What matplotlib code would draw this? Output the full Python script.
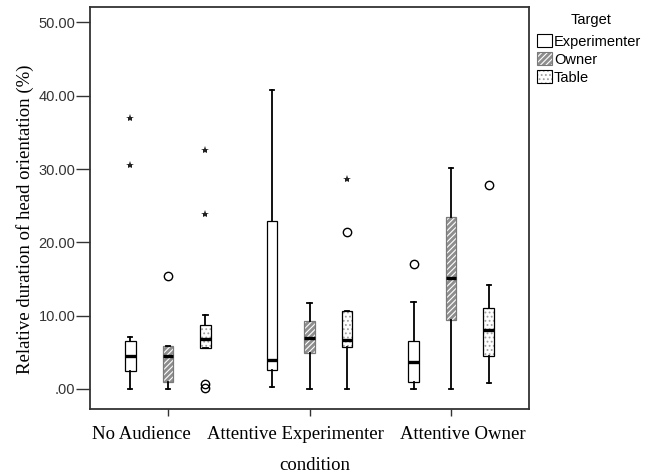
import matplotlib.pyplot as plt
from matplotlib.patches import Patch
from matplotlib.legend_handler import HandlerTuple

plt.rcParams['hatch.linewidth'] = 0.8

conditions = ["No Audience", "Attentive Experimenter", "Attentive Owner"]
targets = ["Experimenter", "Owner", "Table"]

# box statistics per target, one value per condition
exp_med = [4.5, 3.96, 3.72]
exp_q1 = [2.46, 2.59, 0.95]
exp_q3 = [6.59, 22.96, 6.5]
exp_lo = [0.0, 0.3, 0.0]
exp_hi = [7.09, 40.8, 11.8]
exp_out = [[], [], [17.0]]
exp_ext = [[36.9, 30.6], [], []]

own_med = [4.5, 6.92, 15.2]
own_q1 = [1.0, 4.95, 9.4]
own_q3 = [5.87, 9.28, 23.5]
own_lo = [0.0, 0.0, 0.0]
own_hi = [5.87, 11.7, 30.2]
own_out = [[15.4], [], []]
own_ext = [[], [], []]

tab_med = [6.78, 6.68, 8.05]
tab_q1 = [5.63, 5.69, 4.5]
tab_q3 = [8.73, 10.68, 11.0]
tab_lo = [5.55, 0.0, 0.78]
tab_hi = [10.1, 10.68, 14.2]
tab_out = [[0.68, 0.1], [21.4], [27.8]]
tab_ext = [[32.6, 23.9], [28.6], []]

series = [
    (exp_med, exp_q1, exp_q3, exp_lo, exp_hi, exp_out, exp_ext),
    (own_med, own_q1, own_q3, own_lo, own_hi, own_out, own_ext),
    (tab_med, tab_q1, tab_q3, tab_lo, tab_hi, tab_out, tab_ext),
]
face_colors = ['white', '#8e8e8e', 'white']
hatches = [None, '//////', '....']
hatch_colors = [None, 'white', '#a0a0a0']
box_edges = ['black', '#7a7a7a', 'black']
offsets = [-0.265, 0.0, 0.265]
width = 0.073

fig = plt.figure(figsize=(6.57, 4.75), dpi=100)
ax = fig.add_axes([90 / 657, 1 - 409 / 475, 439 / 657, 402 / 475])

for k, (med, q1, q3, lo, hi, out, ext) in enumerate(series):
    pos = [i + offsets[k] for i in range(len(conditions))]
    stats = []
    for i in range(len(conditions)):
        stats.append(dict(med=med[i], q1=q1[i], q3=q3[i],
                          whislo=lo[i], whishi=hi[i], fliers=out[i]))
    if hatches[k]:
        heights = [b - a for a, b in zip(q1, q3)]
        ax.bar(pos, heights, bottom=q1, width=width, facecolor=face_colors[k],
               edgecolor=hatch_colors[k], hatch=hatches[k], linewidth=0,
               zorder=1)
    ax.bxp(stats, positions=pos, widths=width, capwidths=0.03,
           patch_artist=True, manage_ticks=False,
           boxprops=dict(facecolor='none', edgecolor=box_edges[k],
                         linewidth=0.9),
           whiskerprops=dict(color='black', linewidth=1.3),
           capprops=dict(color='black', linewidth=1.3),
           medianprops=dict(color='black', linewidth=2.4),
           flierprops=dict(marker='o', markerfacecolor='none',
                           markeredgecolor='black', markersize=6,
                           markeredgewidth=1.0))
    for i in range(len(conditions)):
        if ext[i]:
            ax.plot([pos[i]] * len(ext[i]), ext[i], linestyle='none',
                    marker='*', color='#222222', markersize=6,
                    markeredgewidth=0, zorder=3)

ax.set_xlim(-0.55, 2.55)
ax.set_ylim(-2.73, 52.1)
ax.set_xticks(range(len(conditions)))
ax.set_xticklabels([])
# the category names in the original sit slightly off their ticks
label_shift = [-0.184, -0.099, 0.085]
for i, name in enumerate(conditions):
    ax.text(i + label_shift[i], -0.064, name, transform=ax.get_xaxis_transform(),
            ha='center', va='center', family='Liberation Serif', fontsize=13.5)

yt = [0, 10, 20, 30, 40, 50]
ax.set_yticks(yt)
ax.set_yticklabels(['.00'] + ['%.2f' % v for v in yt[1:]],
                   family='Liberation Sans', fontsize=10.5, color='#333333')
ax.tick_params(axis='y', length=10, width=1.0, color='#333333', pad=0.5)
ax.tick_params(axis='x', length=5, width=1.0, color='#333333')
for s in ax.spines.values():
    s.set_color('#333333')
    s.set_linewidth(1.3)

ax.set_xlabel('condition', family='Liberation Serif', fontsize=13.5)
ax.xaxis.set_label_coords(0.5125, -0.119)
ax.set_ylabel('Relative duration of head orientation (%)',
              family='Liberation Serif', fontsize=13.5, labelpad=3)
ax.yaxis.label.set_y(0.473)

handles = []
for k in range(len(targets)):
    edge = Patch(facecolor='none', edgecolor=box_edges[k], linewidth=0.8)
    if hatches[k]:
        fill = Patch(facecolor=face_colors[k], edgecolor=hatch_colors[k],
                     hatch=hatches[k], linewidth=0)
        handles.append((fill, edge))
    else:
        handles.append((Patch(facecolor='white', linewidth=0), edge))

fig.text(591 / 657, 1 - 20 / 475, 'Target', ha='center', va='center',
         family='Liberation Sans', fontsize=10.5)
leg = fig.legend(handles, targets, loc='upper left',
                 bbox_to_anchor=(537 / 657, 1 - 34 / 475),
                 frameon=False, borderpad=0, borderaxespad=0,
                 handlelength=1.0, handleheight=1.0, handletextpad=0.15,
                 labelspacing=0.24,
                 prop=dict(family='Liberation Sans', size=10.5),
                 handler_map={tuple: HandlerTuple(ndivide=1, pad=0)})

fig.savefig('out.png', dpi=100)
